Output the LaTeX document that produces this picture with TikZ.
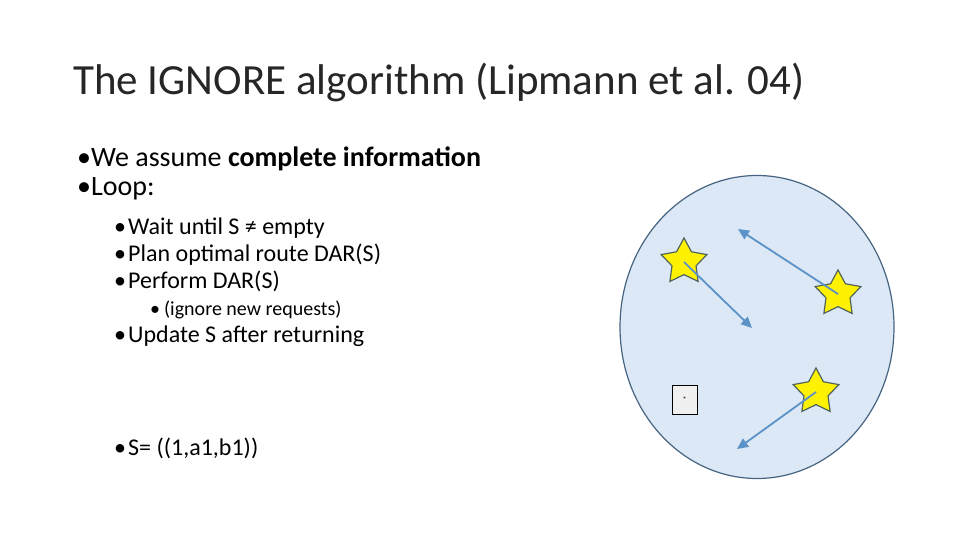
\documentclass[tikz,border=0pt]{standalone}
\usepackage{fontspec}
\setmainfont{Carlito}
\usetikzlibrary{shapes.geometric,arrows.meta}
\newcommand{\bul}[1]{\makebox[#1][l]{•}}
\begin{document}
\begin{tikzpicture}[x=1pt,y=-1pt,
  txt/.style={anchor=base west,inner sep=0pt},
  lv1/.style={txt,font=\fontsize{28}{30}\selectfont},
  lv2/.style={txt,font=\fontsize{24}{26}\selectfont},
  lv3/.style={txt,font=\fontsize{20}{22}\selectfont},
  starnode/.style={star,star points=5,star point ratio=1.9,minimum size=48pt,fill=yellow,draw={rgb,255:red,80;green,100;blue,90},line width=1.2pt,inner sep=0pt},
  arr/.style={-{Triangle[length=11pt,width=10pt]},line width=1.8pt,draw={rgb,255:red,91;green,146;blue,200},fill={rgb,255:red,91;green,146;blue,200}}]
\useasboundingbox (0,0) rectangle (960,540);
\node[txt,font=\fontsize{43}{45}\selectfont,text={rgb,255:red,38;green,38;blue,38}] (title) at (73,95) {The IGNORE algorithm (Lipmann et al. 04)};
\node[lv1] (b1) at (77,167) {\bul{14pt}We assume \textbf{complete information}};
\node[lv1] (b2) at (77,196) {\bul{14pt}Loop:};
\node[lv2] (c1) at (114,234) {\bul{14pt}Wait until S ≠ empty};
\node[lv2] (c2) at (114,261) {\bul{14pt}Plan optimal route DAR(S)};
\node[lv2] (c3) at (114,288) {\bul{14pt}Perform DAR(S)};
\node[lv3] (d1) at (150,315) {\bul{14pt}(ignore new requests)};
\node[lv2] (c4) at (114,342) {\bul{14pt}Update S after returning};
\node[lv2] (c5) at (114,455) {\bul{14pt}S= ((1,a1,b1))};
\node[ellipse,minimum width=274pt,minimum height=303pt,fill={rgb,255:red,220;green,232;blue,245},draw={rgb,255:red,70;green,100;blue,130},line width=1.2pt] (area) at (757,327) {};
\node[starnode] (s1) at (684,262) {};
\node[starnode] (s2) at (838,294) {};
\node[starnode] (s3) at (816,392) {};
\coordinate (e1) at (752,328);
\coordinate (e2) at (738,229);
\coordinate (e3) at (737,449);
\draw[arr] (s1.center) -- (e1);
\draw[arr] (s2.center) -- (e2);
\draw[arr] (s3.center) -- (e3);
\node[draw=black,fill=black!6,minimum width=25pt,minimum height=29pt,inner sep=0pt,font=\fontsize{8}{8}\selectfont] (box) at (684.5,399.5) {*};
\end{tikzpicture}
\end{document}
